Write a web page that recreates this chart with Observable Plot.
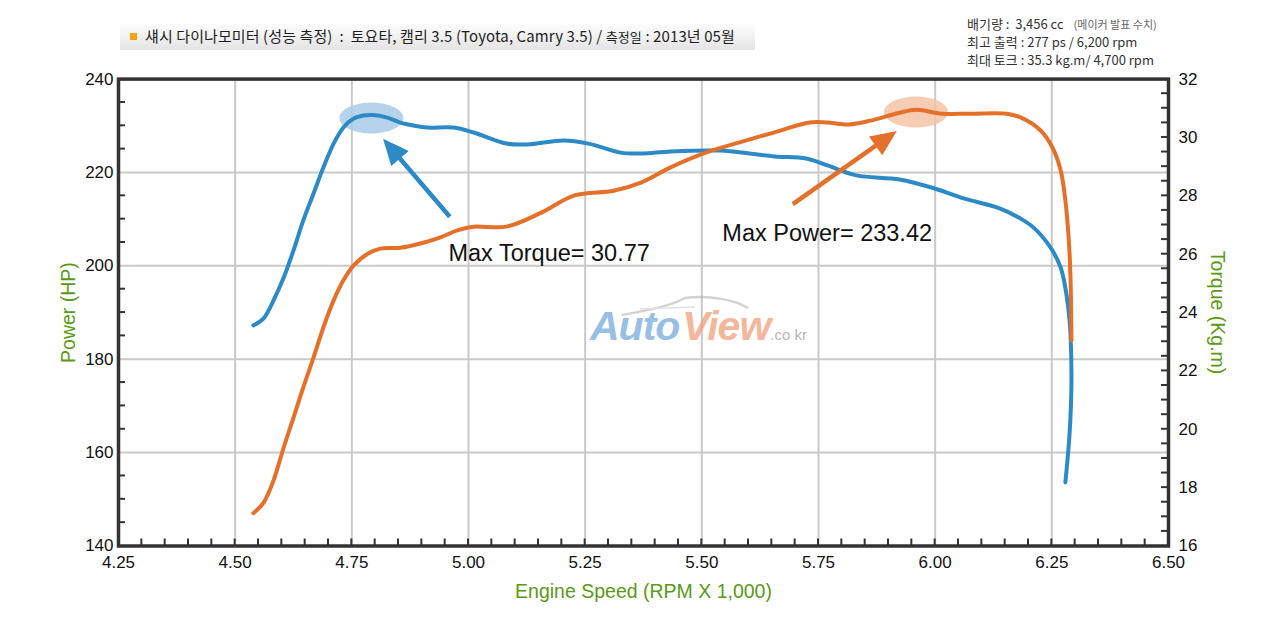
<!DOCTYPE html>
<html>
<head>
<meta charset="utf-8">
<script src="https://cdn.jsdelivr.net/npm/d3@7"></script>
<script src="https://cdn.jsdelivr.net/npm/@observablehq/plot@0.6"></script>
<style>
  html, body { margin: 0; padding: 0; background: #fff; }
  #page { position: relative; width: 1280px; height: 620px; overflow: hidden; font-family: "Liberation Sans", Arial, sans-serif; }
  #header { position: relative; height: 70px; }
  #bar { position: absolute; left: 120px; top: 22px; width: 635px; height: 28px; background: linear-gradient(#ffffff, #e4e4e4); }
  #sq { position: absolute; left: 130px; top: 33px; width: 7px; height: 7px; background: #f4a300; }
  #title { position: absolute; left: 145px; top: 22px; line-height: 28px; font-size: 15px; color: #1e1e1e; font-family: "Noto Sans CJK KR", "Liberation Sans", sans-serif; letter-spacing: 0.1px; white-space: nowrap; }
  #title small { font-size: 13px; }
  #spec { position: absolute; left: 967px; top: 15px; font-size: 13px; line-height: 18px; color: #333; font-family: "Noto Sans CJK KR", "Liberation Sans", sans-serif; white-space: nowrap; }
  #spec .note { font-size: 11px; color: #666; margin-left: 10px; }
  #swoosh { position: absolute; left: 600px; top: 290px; opacity: 0.6; }
  #wm { position: absolute; left: 590px; top: 306px; line-height: 1; white-space: nowrap; font-family: "Liberation Sans", Arial, sans-serif; font-weight: bold; font-style: italic; font-size: 41px; opacity: 0.7; letter-spacing: -1px; }
  #wm .a { color: #6fa6da; }
  #wm .v { color: #f09a72; margin-left: 3px; }
  #wm .c { color: #9a9a9a; font-size: 15px; font-style: normal; font-weight: normal; letter-spacing: 0; }
</style>
</head>
<body>
<div id="page">
  <div id="header">
    <div id="bar"></div>
    <div id="sq"></div>
    <div id="title">섀시 다이나모미터 (성능 측정) &nbsp;:&nbsp; 토요타, 캠리 3.5 (Toyota, Camry 3.5) / <small>측정일</small> : 2013년 05월</div>
    <div id="spec">
      <div>배기량 : &nbsp;3,456 cc<span class="note">(메이커 발표 수치)</span></div>
      <div>최고 출력 : 277 ps / 6,200 rpm</div>
      <div>최대 토크 : 35.3 kg.m/ 4,700 rpm</div>
    </div>
  </div>
  <div id="chart"></div>
  <svg id="swoosh" width="160" height="30" viewBox="0 0 160 30"><path d="M22,25 C50,20 70,16 85,8 C110,5 135,10 148,18" fill="none" stroke="#b5b5b5" stroke-width="2.5"/><path d="M40,19 C60,18 75,18 95,17" fill="none" stroke="#d0d0d0" stroke-width="1.5"/></svg>
  <div id="wm"><span class="a">Auto</span><span class="v">View</span><span class="c">.co kr</span></div>
</div>
<script>
// ---- data ----
const rpmPower = [4.539, 4.561, 4.582, 4.604, 4.625, 4.646, 4.668, 4.689, 4.711, 4.732, 4.754, 4.784, 4.811, 4.854, 4.897, 4.940, 4.976, 5.011, 5.081, 5.156, 5.227, 5.311, 5.371, 5.433, 5.510, 5.579, 5.656, 5.731, 5.769, 5.816, 5.861, 5.924, 5.960, 6.014, 6.076, 6.153, 6.183, 6.226, 6.251, 6.269, 6.279, 6.286, 6.290, 6.292];
const power    = [147.0, 149.3, 154.0, 161.1, 167.5, 174.0, 180.4, 186.8, 192.6, 196.9, 200.1, 202.6, 203.7, 203.9, 204.8, 206.1, 207.6, 208.4, 208.4, 211.4, 215.1, 216.1, 217.9, 221.1, 224.3, 226.4, 228.6, 230.7, 230.7, 230.3, 231.1, 232.8, 233.42, 232.6, 232.6, 232.6, 231.8, 229.0, 225.4, 220.4, 214.0, 206.1, 197.5, 184.0];

const rpmTorque = [4.539, 4.561, 4.582, 4.604, 4.625, 4.646, 4.668, 4.689, 4.711, 4.732, 4.754, 4.775, 4.795, 4.826, 4.854, 4.882, 4.912, 4.968, 5.011, 5.081, 5.126, 5.204, 5.257, 5.326, 5.371, 5.433, 5.540, 5.602, 5.656, 5.724, 5.769, 5.831, 5.924, 5.999, 6.061, 6.138, 6.183, 6.211, 6.247, 6.269, 6.281, 6.288, 6.290, 6.292, 6.288, 6.279];
const torque    = [23.56, 23.80, 24.41, 25.20, 26.13, 27.16, 28.08, 28.97, 29.79, 30.34, 30.65, 30.75, 30.77, 30.68, 30.51, 30.41, 30.34, 30.34, 30.17, 29.79, 29.76, 29.90, 29.79, 29.48, 29.45, 29.52, 29.55, 29.45, 29.35, 29.28, 29.04, 28.70, 28.56, 28.25, 27.91, 27.57, 27.22, 26.91, 26.23, 25.54, 24.65, 23.73, 23.28, 21.57, 19.85, 18.18];

const xTicks = [4.25, 4.50, 4.75, 5.00, 5.25, 5.50, 5.75, 6.00, 6.25, 6.50];
const powerTicks = [140, 160, 180, 200, 220, 240];
const torqueTicks = [16, 18, 20, 22, 24, 26, 28, 30, 32];

// annotations
const noteLabels = ["Max Torque= 30.77", "Max Power= 233.42"];
const noteRpm = [4.957, 5.544];
const noteHp = [202.65, 206.9];
const arrowRpm1 = [4.961, 5.696];
const arrowHp1 = [210.4, 213.1];
const arrowRpm2 = [4.818, 5.919];
const arrowHp2 = [227.1, 228.8];
const spotRpm = [4.793, 5.960];
const spotHp = [231.56, 232.85];

// ---- styles ----
const BLUE = "#2c8ac7", ORANGE = "#e5702a", GREEN = "#5a9a18";
const spotColors = ["#a8cde8", "#f4c4a6"];

// torque -> power scale mapping (16..32 kg.m  <->  140..240 HP)
const toHp = t => 140 + (t - 16) * (100 / 16);
const fromHp = h => 16 + (h - 140) * (16 / 100);

const powerData = rpmPower.map((r, i) => ({rpm: r, v: power[i]}));
const torqueData = rpmTorque.map((r, i) => ({rpm: r, v: torque[i]}));
const notes = noteLabels.map((t, i) => ({t, rpm: noteRpm[i], hp: noteHp[i]}));

const xMinor = d3.range(1, 45).map(i => 4.25 + i * 0.05);
const powerMinor = d3.range(145, 240, 5).filter(v => v % 20 !== 0);
const torqueMinor = d3.range(1, 32).map(i => toHp(16 + i * 0.5));
const gridXs = xTicks.slice(1, -1);
const gridYs = powerTicks.slice(1, -1);

const spotsMark = (index, {x, y}) => {
  const g = d3.create("svg:g");
  spotRpm.forEach((r, i) => {
    g.append("ellipse").attr("cx", x(r)).attr("cy", y(spotHp[i]))
      .attr("rx", 32).attr("ry", 15.5).attr("fill", spotColors[i]).attr("fill-opacity", 0.85);
  });
  return g.node();
};

const arrowsMark = (index, {x, y}) => {
  const g = d3.create("svg:g");
  const cols = [BLUE, ORANGE];
  arrowRpm1.forEach((r, i) => {
    const x1 = x(r), y1 = y(arrowHp1[i]), x2 = x(arrowRpm2[i]), y2 = y(arrowHp2[i]);
    const dx = x2 - x1, dy = y2 - y1, L = Math.hypot(dx, dy);
    const ux = dx / L, uy = dy / L, hl = 26, hw = 11.5;
    const bx = x2 - ux * hl, by = y2 - uy * hl;
    g.append("line").attr("x1", x1).attr("y1", y1).attr("x2", bx + ux * 2).attr("y2", by + uy * 2)
      .attr("stroke", cols[i]).attr("stroke-width", 4.5);
    g.append("path")
      .attr("d", `M${x2},${y2}L${bx - uy * hw},${by + ux * hw}L${bx + uy * hw},${by - ux * hw}Z`)
      .attr("fill", cols[i]);
  });
  return g.node();
};

// inward minor ticks on the left, bottom and right edges of the frame
const TK = 7;
const minorTicksMark = (index, {x, y}) => {
  const g = d3.create("svg:g").attr("stroke", "#333").attr("stroke-width", 2);
  const yb = y(140), left = x(4.25), right = x(6.5);
  xMinor.forEach(v => g.append("line").attr("x1", x(v)).attr("x2", x(v)).attr("y1", yb).attr("y2", yb - TK));
  powerMinor.forEach(v => g.append("line").attr("x1", left).attr("x2", left + TK).attr("y1", y(v)).attr("y2", y(v)));
  torqueMinor.forEach(v => g.append("line").attr("x1", right).attr("x2", right - TK).attr("y1", y(v)).attr("y2", y(v)));
  return g.node();
};

const chart = Plot.plot({
  width: 1280,
  height: 550,
  marginTop: 8.6,
  marginBottom: 74.5,
  marginLeft: 118,
  marginRight: 112,
  x: {domain: [4.25, 6.5]},
  y: {domain: [140, 240]},
  style: {fontFamily: "'Liberation Sans', Arial, sans-serif", fontSize: "17px", color: "#111", background: "transparent", overflow: "visible"},
  marks: [
    Plot.gridX(gridXs, {stroke: "#c9c9c9", strokeOpacity: 1, strokeWidth: 2}),
    Plot.gridY(gridYs, {stroke: "#c9c9c9", strokeOpacity: 1, strokeWidth: 2}),
    spotsMark,
    Plot.line(torqueData, {x: "rpm", y: d => toHp(d.v), stroke: BLUE, strokeWidth: 4, curve: "catmull-rom"}),
    Plot.line(powerData, {x: "rpm", y: "v", stroke: ORANGE, strokeWidth: 4, curve: "catmull-rom"}),
    arrowsMark,
    Plot.text(notes, {x: "rpm", y: "hp", text: "t", textAnchor: "start", lineAnchor: "middle", fontSize: 23.5, fill: "#111"}),
    minorTicksMark,
    Plot.frame({stroke: "#333", strokeWidth: 3.5}),
    Plot.axisX(xTicks, {tickSize: 0, tickPadding: 10, tickFormat: d => d.toFixed(2), label: null, fontSize: 17}),
    Plot.axisY(powerTicks, {tickSize: 0, tickPadding: 5, label: null, fontSize: 17}),
    Plot.axisY(torqueTicks.map(toHp), {anchor: "right", tickSize: 0, tickPadding: 10, tickFormat: d => String(Math.round(fromHp(d))), label: null, fontSize: 17}),
    Plot.text(["Engine Speed (RPM X 1,000)"], {frameAnchor: "bottom", textAnchor: "middle", dy: 52, fontSize: 19.5, fill: GREEN}),
    Plot.text(["Power (HP)"], {frameAnchor: "left", textAnchor: "middle", rotate: -90, dx: -50, fontSize: 19.5, fill: GREEN}),
    Plot.text(["Torque (Kg.m)"], {frameAnchor: "right", textAnchor: "middle", rotate: 90, dx: 49, fontSize: 19.5, fill: GREEN})
  ]
});
document.getElementById("chart").appendChild(chart);
</script>
</body>
</html>
